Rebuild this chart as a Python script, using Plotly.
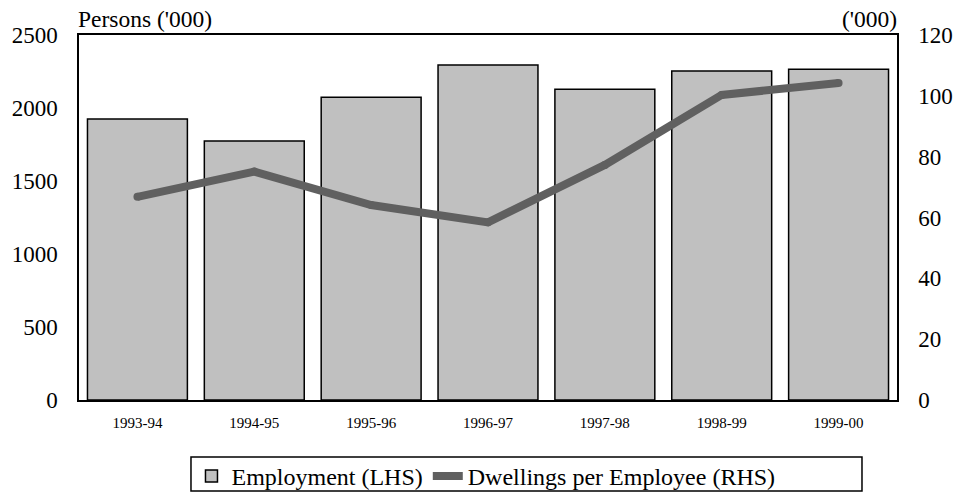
import plotly.graph_objects as go

categories = ["1993-94", "1994-95", "1995-96", "1996-97", "1997-98", "1998-99", "1999-00"]
employment = [1925, 1774, 2073, 2295, 2128, 2253, 2265]
dwellings = [66.8, 75.1, 64.1, 58.4, 77.3, 100.3, 104.2]
left_ticks = [0, 500, 1000, 1500, 2000, 2500]
right_ticks = [0, 20, 40, 60, 80, 100, 120]

FONT = "Liberation Serif"
CLEAR = "rgba(0,0,0,0)"

fig = go.Figure()
fig.add_trace(go.Bar(
    x=categories, y=employment, name="Employment (LHS)",
    marker=dict(color="#C0C0C0", line=dict(color="black", width=1.5)),
    yaxis="y",
))
fig.add_trace(go.Scatter(
    x=categories, y=dwellings, name="Dwellings per Employee (RHS)",
    mode="lines+markers", line=dict(color="#606060", width=8),
    marker=dict(color="#606060", size=8, line=dict(width=0)),
    yaxis="y2",
))

fig.update_layout(
    width=956, height=494,
    margin=dict(l=79, r=59, t=35, b=94, autoexpand=False),
    paper_bgcolor="white", plot_bgcolor="white",
    font=dict(family=FONT, color="black", size=23),
    bargap=0.145,
    showlegend=True,
    legend=dict(
        orientation="h", x=0.1375, xanchor="left", y=-0.148, yanchor="top",
        borderwidth=0, font=dict(size=24, family=FONT),
        bgcolor=CLEAR, itemwidth=30, tracegroupgap=0,
    ),
    xaxis=dict(
        showline=True, linecolor="black", linewidth=1.5, mirror=True,
        showgrid=False, ticks="outside", ticklen=8, tickcolor=CLEAR,
        tickfont=dict(size=15, family=FONT),
    ),
    yaxis=dict(
        range=[0, 2500], tickvals=left_ticks, showgrid=False,
        showline=True, linecolor="black", linewidth=1.5,
        ticks="outside", ticklen=15, tickcolor=CLEAR,
        tickfont=dict(size=23, family=FONT), zeroline=False,
    ),
    yaxis2=dict(
        range=[0, 120], tickvals=right_ticks, overlaying="y", side="right",
        showgrid=False, showline=True, linecolor="black", linewidth=1.5,
        ticks="outside", ticklen=15, tickcolor=CLEAR,
        tickfont=dict(size=23, family=FONT), zeroline=False,
    ),
    shapes=[
        dict(type="rect", xref="paper", yref="paper",
             x0=0.1369, x1=0.9572, y0=-0.249, y1=-0.156,
             line=dict(color="black", width=1.5), fillcolor=CLEAR),
    ],
    annotations=[
        dict(text="Persons ('000)", xref="paper", yref="paper", x=0, y=1.0,
             xanchor="left", yanchor="bottom", yshift=1, xshift=-3,
             showarrow=False, font=dict(size=23.5, family=FONT)),
        dict(text="('000)", xref="paper", yref="paper", x=1.0, y=1.0,
             xanchor="right", yanchor="bottom", yshift=1, xshift=2,
             showarrow=False, font=dict(size=23.5, family=FONT)),
    ],
)

fig.write_html("out.html", config={"displayModeBar": False},
               post_script="document.body.style.margin='0';")
